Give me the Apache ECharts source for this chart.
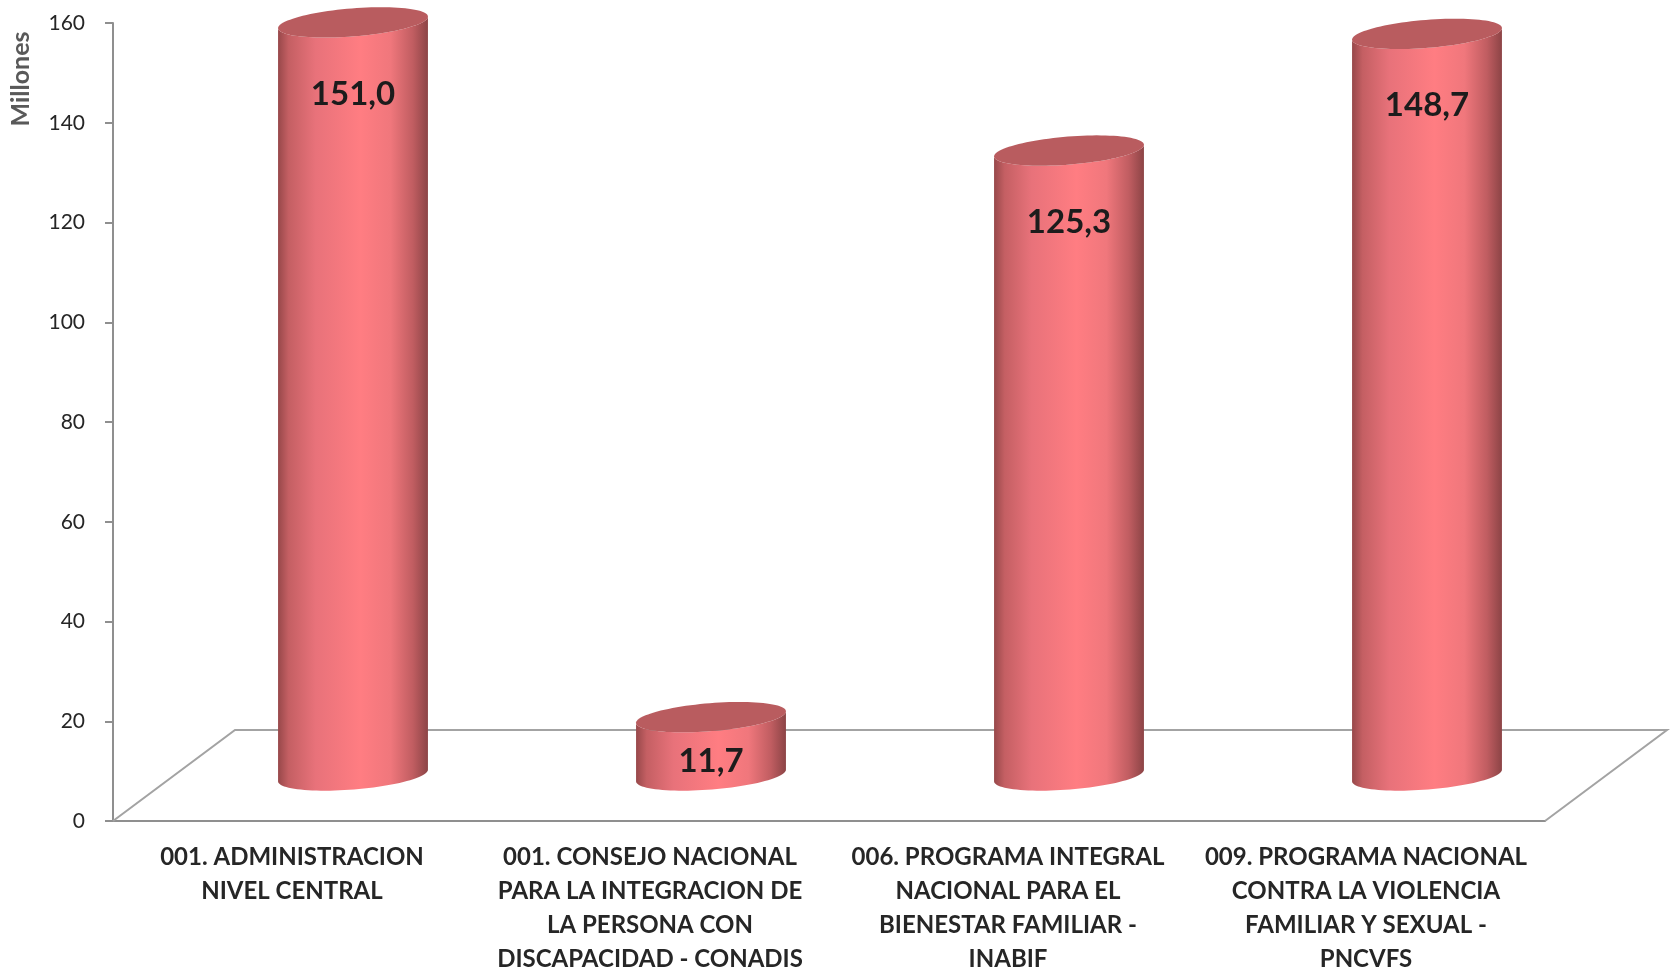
<!DOCTYPE html>
<html>
<head>
<meta charset="utf-8">
<script src="https://cdn.jsdelivr.net/npm/echarts@6/dist/echarts.min.js"></script>
<style>
  html, body { margin: 0; padding: 0; background: #fff; }
  #chart { width: 1673px; height: 971px; }
</style>
</head>
<body>
<div id="chart"></div>
<script>
// categories (line breaks as in the original chart)
const categories = [
  '001. ADMINISTRACION\nNIVEL CENTRAL',
  '001. CONSEJO NACIONAL\nPARA LA INTEGRACION DE\nLA PERSONA CON\nDISCAPACIDAD - CONADIS',
  '006. PROGRAMA INTEGRAL\nNACIONAL PARA EL\nBIENESTAR FAMILIAR -\nINABIF',
  '009. PROGRAMA NACIONAL\nCONTRA LA VIOLENCIA\nFAMILIAR Y SEXUAL -\nPNCVFS'
];
const values = [151.0, 11.7, 125.3, 148.7];
const yMin = 0;
const yMax = 160;
const yStep = 20;
const unitLabel = 'Millones';

// 3d look
const DEPTH_X = 122;
const DEPTH_Y = -91;
const TILT = 0.08;
const RY = 14;

const chart = echarts.init(document.getElementById('chart'));

function fmt(v) {
  return v.toFixed(1).replace('.', ',');
}

function renderFloor(params, api) {
  const bw = api.size([1, 0])[0];
  const a = api.coord([0, 0]);
  const b = api.coord([categories.length - 1, 0]);
  const x0 = a[0] - bw / 2, x1 = b[0] + bw / 2, y = a[1];
  return {
    type: 'polyline',
    silent: true,
    shape: {
      points: [
        [x0, y], [x0 + DEPTH_X, y + DEPTH_Y],
        [x1 + DEPTH_X, y + DEPTH_Y], [x1, y]
      ]
    },
    style: { stroke: '#a3a3a3', lineWidth: 2, fill: null }
  };
}

function renderCylinder(params, api) {
  const i = api.value(0), v = api.value(1);
  const top = api.coord([i, v]);
  const base = api.coord([i, 0]);
  const bw = api.size([1, 0])[0];
  const rx = bw * 0.21;
  const cx = top[0] + DEPTH_X / 2;
  const yT = top[1] + DEPTH_Y / 2;
  const yB = base[1] + DEPTH_Y / 2;
  const c = Math.cos(TILT), s = Math.sin(TILT);
  function pt(t, yc) {
    return [
      cx + rx * Math.cos(t) * c + RY * Math.sin(t) * s,
      yc - rx * Math.cos(t) * s + RY * Math.sin(t) * c
    ];
  }
  const N = 48;
  const body = [];
  body.push(pt(Math.PI, yT));
  for (let k = 0; k <= N; k++) body.push(pt(Math.PI - Math.PI * k / N, yB));
  for (let k = 0; k <= N; k++) body.push(pt(Math.PI * k / N, yT));
  const cap = [];
  for (let k = 0; k < N * 2; k++) cap.push(pt(Math.PI * k / N, yT));

  const labelY = yT + Math.min(72, (yB - yT) * 0.75);
  return {
    type: 'group',
    children: [
      {
        type: 'polygon',
        shape: { points: body },
        style: {
          fill: new echarts.graphic.LinearGradient(0, 0, 1, 0, [
            { offset: 0, color: '#97484a' },
            { offset: 0.07, color: '#c45f63' },
            { offset: 0.25, color: '#e8727a' },
            { offset: 0.55, color: '#ff7d82' },
            { offset: 0.75, color: '#f0777c' },
            { offset: 0.9, color: '#c05d61' },
            { offset: 1, color: '#8c4446' }
          ])
        }
      },
      {
        type: 'polygon',
        shape: { points: cap },
        style: { fill: '#b95c5f' }
      },
      {
        type: 'text',
        x: cx,
        y: labelY,
        style: {
          text: fmt(v),
          font: 'bold 33px Lato',
          fill: '#1c1c1c',
          align: 'center',
          verticalAlign: 'middle'
        }
      }
    ]
  };
}

chart.setOption({
  animation: false,
  backgroundColor: '#ffffff',
  grid: {
    left: 113, right: 128, top: 23, bottom: 150,
    containLabel: false,
    outerBoundsMode: 'none'
  },
  graphic: [{
    type: 'text',
    x: 21,
    y: 79,
    rotation: Math.PI / 2,
    style: {
      text: unitLabel,
      font: 'bold 25px Lato',
      fill: '#595959',
      align: 'center',
      verticalAlign: 'middle'
    }
  }],
  xAxis: {
    type: 'category',
    data: categories,
    axisLine: { lineStyle: { color: '#8f8f8f', width: 2 } },
    axisTick: { length: 8, lineStyle: { color: '#8f8f8f', width: 2 } },
    axisLabel: {
      interval: 0,
      margin: 19,
      fontFamily: 'Lato',
      fontWeight: 'bold',
      fontSize: 24,
      lineHeight: 34,
      color: '#262626'
    }
  },
  yAxis: {
    type: 'value',
    min: yMin,
    max: yMax,
    interval: yStep,
    splitLine: { show: false },
    axisLine: { show: true, lineStyle: { color: '#8f8f8f', width: 2 } },
    axisTick: { show: true, length: 8, lineStyle: { color: '#8f8f8f', width: 2 } },
    axisLabel: {
      margin: 28,
      fontFamily: 'Lato',
      fontSize: 21,
      color: '#262626'
    }
  },
  series: [
    {
      type: 'custom',
      z: 1,
      silent: true,
      clip: false,
      renderItem: renderFloor,
      data: [[0, 0]]
    },
    {
      type: 'custom',
      z: 3,
      clip: false,
      renderItem: renderCylinder,
      encode: { x: 0, y: 1 },
      data: values.map((v, i) => [i, v])
    }
  ]
});
</script>
</body>
</html>
